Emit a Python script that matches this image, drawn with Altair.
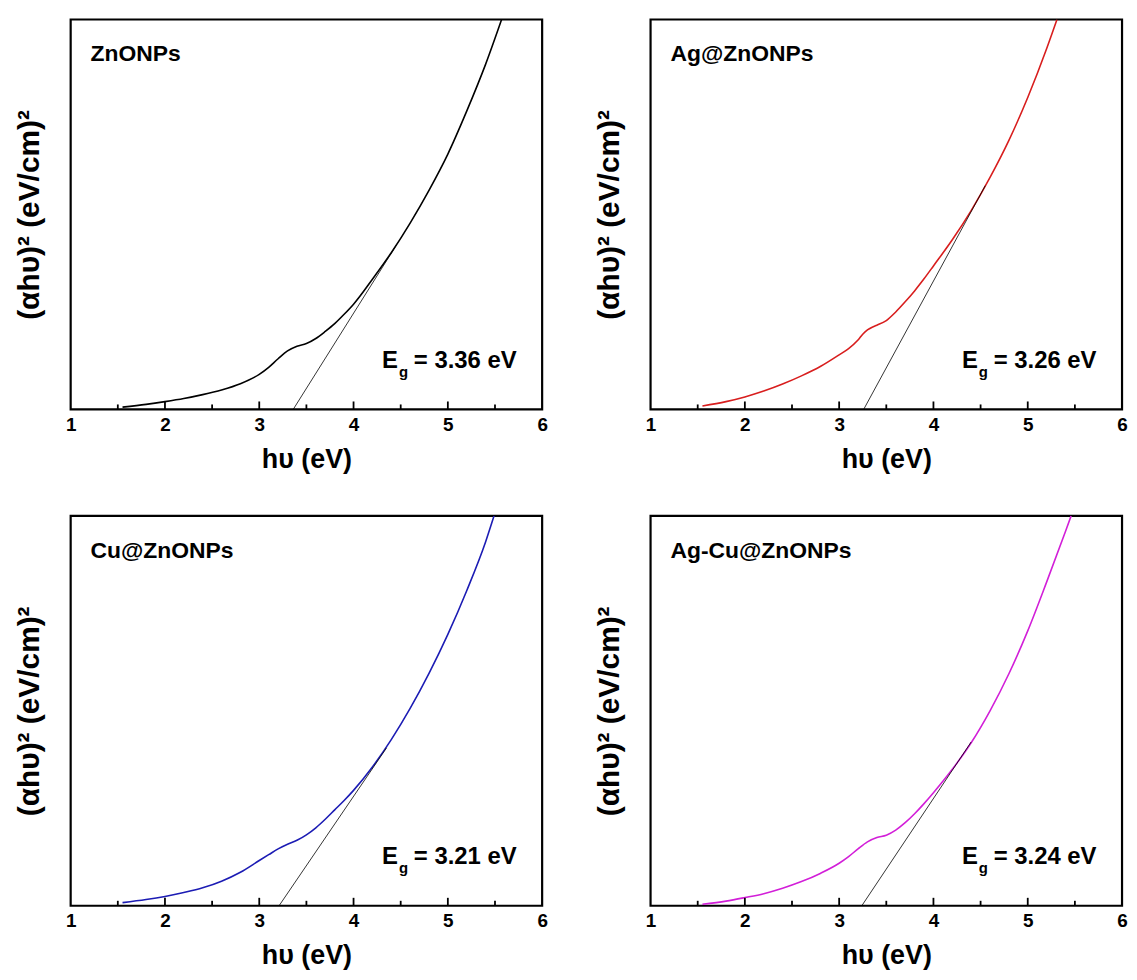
import altair as alt
import pandas as pd

FONT = "Liberation Sans"

# ---- data (y in arbitrary units, 0..100 = frame) ----
x_zno = [1.55, 1.8, 2.0, 2.2, 2.4, 2.6, 2.8, 3.0, 3.1, 3.2, 3.3, 3.4, 3.5, 3.6, 3.7, 3.8, 3.9, 4.0, 4.2, 4.4, 4.6, 4.8, 5.0, 5.2, 5.4, 5.57]
y_zno = [0.6, 1.3, 2.0, 2.8, 3.8, 5.0, 6.6, 9.0, 10.8, 13.0, 15.0, 16.2, 16.9, 18.2, 20.0, 22.0, 24.4, 27.0, 33.4, 40.2, 47.8, 56.2, 65.5, 76.5, 88.5, 100.0]

x_ag = [1.55, 1.8, 2.0, 2.2, 2.4, 2.6, 2.8, 3.0, 3.1, 3.2, 3.25, 3.3, 3.35, 3.4, 3.5, 3.6, 3.7, 3.8, 3.9, 4.0, 4.2, 4.4, 4.6, 4.8, 5.0, 5.2, 5.31]
y_ag = [0.9, 2.0, 3.2, 4.7, 6.5, 8.6, 11.0, 14.0, 15.6, 17.8, 19.3, 20.4, 21.1, 21.6, 22.8, 25.0, 27.6, 30.4, 33.5, 36.8, 43.5, 51.0, 59.5, 69.0, 80.0, 92.5, 100.0]

x_cu = [1.55, 1.8, 2.0, 2.2, 2.4, 2.6, 2.8, 3.0, 3.1, 3.2, 3.3, 3.4, 3.5, 3.6, 3.7, 3.8, 3.9, 4.0, 4.2, 4.4, 4.6, 4.8, 5.0, 5.2, 5.4, 5.49]
y_cu = [0.8, 1.6, 2.4, 3.4, 4.6, 6.3, 8.6, 11.6, 13.1, 14.6, 15.8, 16.8, 18.2, 20.0, 22.2, 24.6, 27.0, 29.6, 35.6, 42.6, 50.6, 59.6, 69.6, 80.8, 93.3, 100.0]

x_agcu = [1.55, 1.8, 2.0, 2.2, 2.4, 2.6, 2.8, 3.0, 3.1, 3.2, 3.3, 3.4, 3.5, 3.6, 3.7, 3.8, 3.9, 4.0, 4.2, 4.4, 4.6, 4.8, 5.0, 5.2, 5.4, 5.46]
y_agcu = [0.4, 1.2, 2.1, 3.1, 4.5, 6.2, 8.3, 10.9, 12.6, 14.6, 16.4, 17.5, 18.1, 19.4, 21.3, 23.6, 26.2, 29.0, 35.0, 41.8, 50.0, 59.5, 70.5, 83.0, 96.0, 100.0]

# tangent (Tauc extrapolation) lines
fit_x_zno, fit_y_zno = [3.36, 4.45], [0.0, 42.0]
fit_x_ag, fit_y_ag = [3.26, 4.55], [0.0, 57.4]
fit_x_cu, fit_y_cu = [3.21, 4.35], [0.0, 40.5]
fit_x_agcu, fit_y_agcu = [3.24, 4.40], [0.0, 42.0]

names = ["ZnONPs", "Ag@ZnONPs", "Cu@ZnONPs", "Ag-Cu@ZnONPs"]
colors = ["#000000", "#d81e1e", "#1c1cb4", "#d21fd8"]
band_gaps = ["3.36", "3.26", "3.21", "3.24"]

tick_labels = [1, 2, 3, 4, 5, 6]
major_ticks = [2, 3, 4, 5]
minor_ticks = [1.5, 2.5, 3.5, 4.5, 5.5]

W, H = 474, 392


def txt(s, x, y, size):
    return alt.Chart(pd.DataFrame({"t": [s]})).mark_text(
        align="left", baseline="alphabetic", font=FONT, fontSize=size, fontWeight="bold", color="black"
    ).encode(x=alt.value(x), y=alt.value(y), text="t:N")


def panel(name, color, xs, ys, fx, fy, eg):
    curve_df = pd.DataFrame({"x": xs, "y": ys})
    fit_df = pd.DataFrame({"x": fx, "y": fy})
    xscale = alt.Scale(domain=[1, 6], nice=False, zero=False)
    yscale = alt.Scale(domain=[0, 100], nice=False)
    xaxis = alt.Axis(values=tick_labels, format="d", title="h\u03c5 (eV)", ticks=False, domain=False,
                     grid=False, labelFont=FONT, labelFontSize=19, labelFontWeight="bold",
                     labelColor="black", labelPadding=6, labelFlush=False, labelOverlap=False,
                     labelBound=False, titleFont=FONT, titleFontSize=27, titleFontWeight="bold",
                     titleColor="black", titlePadding=12)
    yaxis = alt.Axis(title="(\u03b1h\u03c5)\u00b2 (eV/cm)\u00b2", ticks=False, labels=False, domain=False,
                     grid=False, titleFont=FONT, titleFontSize=30, titleFontWeight="bold",
                     titleColor="black", titlePadding=26)
    curve = alt.Chart(curve_df).mark_line(color=color, strokeWidth=1.6, clip=True,
                                          interpolate="monotone").encode(
        x=alt.X("x:Q", scale=xscale, axis=xaxis),
        y=alt.Y("y:Q", scale=yscale, axis=yaxis),
    )
    fit = alt.Chart(fit_df).mark_line(color="black", strokeWidth=0.8).encode(x="x:Q", y="y:Q")
    major = alt.Chart(pd.DataFrame({"t": major_ticks})).mark_rule(color="black", strokeWidth=1.8).encode(
        x="t:Q", y=alt.value(H), y2=alt.value(H - 8))
    minor = alt.Chart(pd.DataFrame({"t": minor_ticks})).mark_rule(color="black", strokeWidth=1.8).encode(
        x="t:Q", y=alt.value(H), y2=alt.value(H - 5))
    lab = txt(name, 20, 42, 23)
    e1 = txt("E", 313, 350, 24)
    e2 = txt("g", 330, 359, 15)
    e3 = txt("= " + eg + " eV", 345, 350, 24)
    return alt.layer(curve, fit, major, minor, lab, e1, e2, e3).properties(width=W, height=H)


p1 = panel(names[0], colors[0], x_zno, y_zno, fit_x_zno, fit_y_zno, band_gaps[0])
p2 = panel(names[1], colors[1], x_ag, y_ag, fit_x_ag, fit_y_ag, band_gaps[1])
p3 = panel(names[2], colors[2], x_cu, y_cu, fit_x_cu, fit_y_cu, band_gaps[2])
p4 = panel(names[3], colors[3], x_agcu, y_agcu, fit_x_agcu, fit_y_agcu, band_gaps[3])

chart = alt.vconcat(
    alt.hconcat(p1, p2, spacing=44),
    alt.hconcat(p3, p4, spacing=44),
    spacing=40,
).properties(
    padding={"left": 5, "top": 7, "right": 0, "bottom": 0}
).configure_view(stroke="black", strokeWidth=2.2)

chart.save("out.html", embed_options={"renderer": "svg", "actions": False})
